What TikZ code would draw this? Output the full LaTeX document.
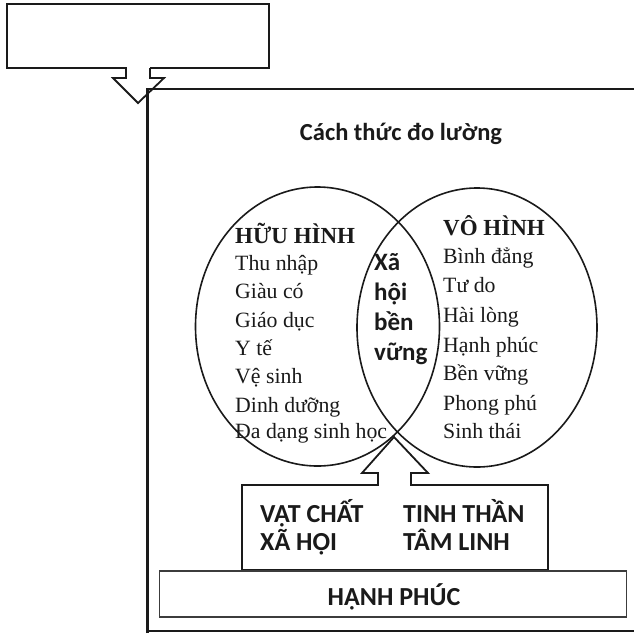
\documentclass[tikz,border=0pt]{standalone}
\usepackage{fontspec}
\setmainfont{Liberation Serif}
\newfontfamily\carlitofont{Carlito}
\usetikzlibrary{shapes.geometric}
\definecolor{ink}{HTML}{1A1A1A}
\tikzset{
  frameline/.style={draw=ink,line width=2.4pt},
  boxline/.style={draw=ink,line width=1.8pt},
  venn/.style={ellipse,draw=ink,line width=1.6pt,inner sep=0pt},
  sanslbl/.style={font=\carlitofont\bfseries\fontsize{26}{30}\selectfont,text=ink,inner sep=0pt,anchor=base west},
  midlbl/.style={font=\carlitofont\bfseries\fontsize{25}{30}\selectfont,text=ink,inner sep=0pt,anchor=base west},
  seriflbl/.style={font=\fontsize{21.8}{25}\selectfont,text=ink,inner sep=0pt,anchor=base west},
  serifhead/.style={font=\bfseries\fontsize{23}{25}\selectfont,text=ink,inner sep=0pt,anchor=base west},
}
\begin{document}
\begin{tikzpicture}[x=1pt,y=-1pt]
\useasboundingbox[fill=white] (0,0) rectangle (634,633);
% top callout
\node[boxline,rectangle,minimum width=262,minimum height=64,inner sep=0pt] (callout) at (138,36) {};
\coordinate (tipA) at (138,103);
\fill[white] (126.5,65) rectangle (149.5,71);
\draw[boxline,line join=miter] (126,68) -- (126,78) -- (113,78) -- (tipA) -- (164,78) -- (150,78) -- (150,68);
% main frame
\draw[frameline] (147.5,633) -- (147.5,89) -- (634,89);
\draw[frameline] (147.5,631) -- (634,631);
% title
\node[font=\carlitofont\bfseries\fontsize{24.5}{28}\selectfont,text=ink,inner sep=0pt,anchor=base] (title) at (401,140) {Cách thức đo lường};
% venn
\node[venn,minimum width=244,minimum height=279] (L) at (317.5,326.5) {};
\node[venn,minimum width=240,minimum height=279] (R) at (477,327.5) {};
% left list
\node[serifhead] (lh) at (235,243) {HỮU HÌNH};
\node[seriflbl] (l1) at (235,270) {Thu nhập};
\node[seriflbl] (l2) at (235,298) {Giàu có};
\node[seriflbl] (l3) at (235,327) {Giáo dục};
\node[seriflbl] (l4) at (235,355) {Y tế};
\node[seriflbl] (l5) at (235,383) {Vệ sinh};
\node[seriflbl] (l6) at (235,412) {Dinh dưỡng};
\node[seriflbl] (l7) at (235,438) {Đa dạng sinh học};
% right list
\node[serifhead] (rh) at (443,235) {VÔ HÌNH};
\node[seriflbl] (r1) at (443,263) {Bình đẳng};
\node[seriflbl] (r2) at (443,292) {Tư do};
\node[seriflbl] (r3) at (443,322) {Hài lòng};
\node[seriflbl] (r4) at (443,352) {Hạnh phúc};
\node[seriflbl] (r5) at (443,380) {Bền vững};
\node[seriflbl] (r6) at (443,410) {Phong phú};
\node[seriflbl] (r7) at (443,438) {Sinh thái};
% intersection
\node[midlbl] (m1) at (374,270) {Xã};
\node[midlbl] (m2) at (374,300) {hội};
\node[midlbl] (m3) at (374,330) {bền};
\node[midlbl] (m4) at (374,360) {vững};
% bottom box and arrow
\node[boxline,rectangle,minimum width=306,minimum height=85,inner sep=0pt] (base) at (395,527.5) {};
\coordinate (tipB) at (394,437);
\draw[boxline,line join=miter] (378,485) -- (378,473) -- (362,473) -- (tipB) -- (428,473) -- (411,473) -- (411,485);
\fill[white] (379.2,482) rectangle (409.8,488);
\node[sanslbl] (b1) at (260,522) {VẬT CHẤT};
\node[sanslbl] (b2) at (260,550) {XÃ HỘI};
\node[sanslbl] (b3) at (403,522) {TINH THẦN};
\node[sanslbl] (b4) at (403,550) {TÂM LINH};
% happiness
\node[draw=ink!85,line width=1.3pt,rectangle,minimum width=467,minimum height=46,inner sep=0pt] (hp) at (393,594) {};
\node[sanslbl,anchor=base] (hpt) at (394,605) {HẠNH PHÚC};
\end{tikzpicture}
\end{document}
